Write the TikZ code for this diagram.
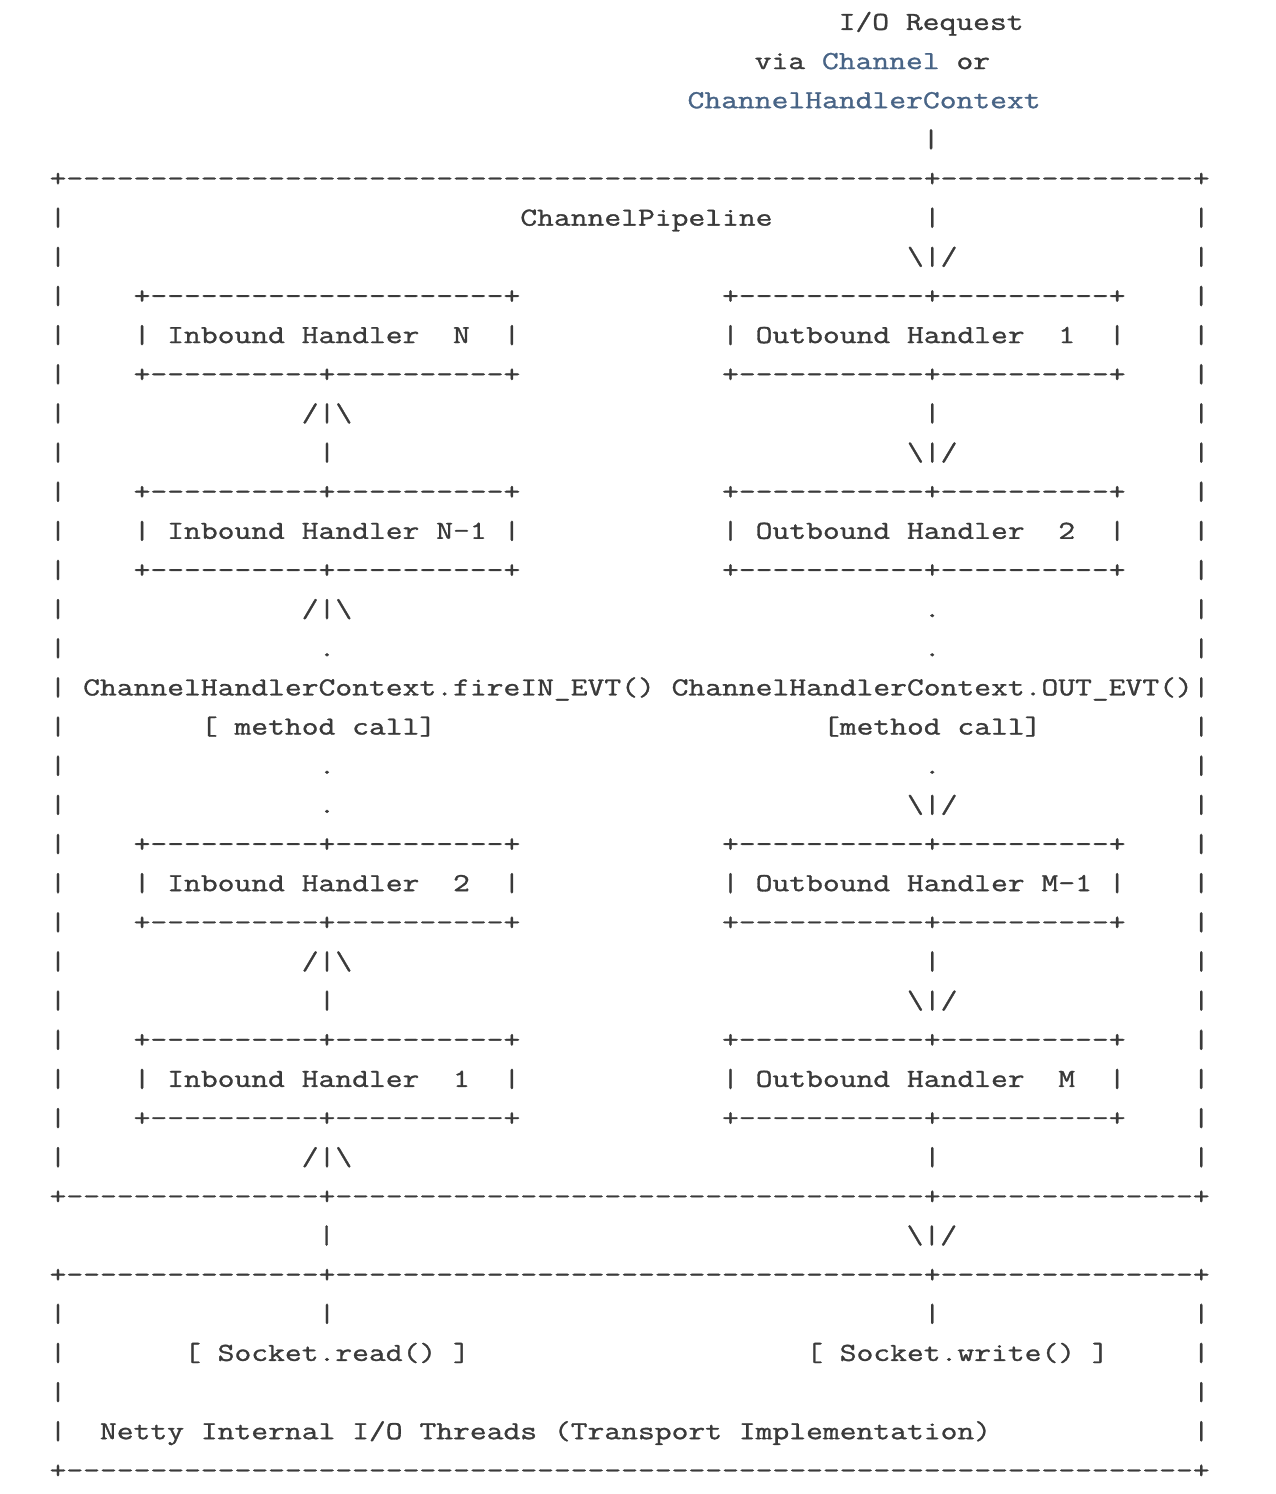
\documentclass[tikz,border=0pt]{standalone}
\usepackage{tikz}
\definecolor{DocText}{RGB}{58,58,58}
\definecolor{LinkBlue}{RGB}{72,100,134}
\font\asciifont="[lmmono12-regular]:extend=1.2557;embolden=1.2" at 13pt
\newcommand\gap[1]{\hskip#1\fontcharwd\font`x\relax}
\newcommand\dashes[1]{\foreach\i in {1,...,#1}{-\kern0pt}}
\newcommand\inarrow{/|\textbackslash}
\newcommand\outarrow{\textbackslash|/}
\newcommand\handlerrule{|\gap4+\dashes{10}+\dashes{10}+\gap{12}+\dashes{11}+\dashes{10}+\gap4|}
\tikzset{
  ascii/.style={anchor=base west, inner sep=0pt, outer sep=0pt, text=DocText,
    font=\asciifont\frenchspacing}
}
\begin{document}
\begin{tikzpicture}[x=8.395pt, y=-19.575pt]
    \useasboundingbox (-2.954,0.236) rectangle (73.04,38.40);
    \node[ascii] (r1) at (47,1) {I/O Request};
    \node[ascii] (r2) at (42,2) {via \textcolor{LinkBlue}{Channel} or};
    \node[ascii] (r3) at (38,3) {\textcolor{LinkBlue}{ChannelHandlerContext}};
    \node[ascii] (r4) at (52,4) {|};
    \node[ascii] (r5) at (0,5) {+\dashes{51}+\dashes{15}+};
    \node[ascii] (r6) at (0,6) {|\gap{27}ChannelPipeline\gap{9}|\gap{15}|};
    \node[ascii] (r7) at (0,7) {|\gap{50}\outarrow\gap{14}|};
    \node[ascii] (r8) at (0,8) {|\gap4+\dashes{21}+\gap{12}+\dashes{11}+\dashes{10}+\gap4|};
    \node[ascii] (r9) at (0,9) {|\gap4| Inbound Handler\gap{2}N\gap{2}|\gap{12}| Outbound Handler\gap{2}1\gap{2}|\gap4|};
    \node[ascii] (r10) at (0,10) {\handlerrule};
    \node[ascii] (r11) at (0,11) {|\gap{14}\inarrow\gap{34}|\gap{15}|};
    \node[ascii] (r12) at (0,12) {|\gap{15}|\gap{34}\outarrow\gap{14}|};
    \node[ascii] (r13) at (0,13) {\handlerrule};
    \node[ascii] (r14) at (0,14) {|\gap4| Inbound Handler N-1 |\gap{12}| Outbound Handler\gap{2}2\gap{2}|\gap4|};
    \node[ascii] (r15) at (0,15) {\handlerrule};
    \node[ascii] (r16) at (0,16) {|\gap{14}\inarrow\gap{34}.\gap{15}|};
    \node[ascii] (r17) at (0,17) {|\gap{15}.\gap{35}.\gap{15}|};
    \node[ascii] (r18) at (0,18) {| ChannelHandlerContext.fireIN\_EVT() ChannelHandlerContext.OUT\_EVT()|};
    \node[ascii] (r19) at (0,19) {|\gap{8}[ method call]\gap{23}[method call]\gap{9}|};
    \node[ascii] (r20) at (0,20) {|\gap{15}.\gap{35}.\gap{15}|};
    \node[ascii] (r21) at (0,21) {|\gap{15}.\gap{34}\outarrow\gap{14}|};
    \node[ascii] (r22) at (0,22) {\handlerrule};
    \node[ascii] (r23) at (0,23) {|\gap4| Inbound Handler\gap{2}2\gap{2}|\gap{12}| Outbound Handler M-1 |\gap4|};
    \node[ascii] (r24) at (0,24) {\handlerrule};
    \node[ascii] (r25) at (0,25) {|\gap{14}\inarrow\gap{34}|\gap{15}|};
    \node[ascii] (r26) at (0,26) {|\gap{15}|\gap{34}\outarrow\gap{14}|};
    \node[ascii] (r27) at (0,27) {\handlerrule};
    \node[ascii] (r28) at (0,28) {|\gap4| Inbound Handler\gap{2}1\gap{2}|\gap{12}| Outbound Handler\gap{2}M\gap{2}|\gap4|};
    \node[ascii] (r29) at (0,29) {\handlerrule};
    \node[ascii] (r30) at (0,30) {|\gap{14}\inarrow\gap{34}|\gap{15}|};
    \node[ascii] (r31) at (0,31) {+\dashes{15}+\dashes{35}+\dashes{15}+};
    \node[ascii] (r32) at (16,32) {|\gap{34}\outarrow};
    \node[ascii] (r33) at (0,33) {+\dashes{15}+\dashes{35}+\dashes{15}+};
    \node[ascii] (r34) at (0,34) {|\gap{15}|\gap{35}|\gap{15}|};
    \node[ascii] (r35) at (0,35) {|\gap{7}[ Socket.read() ]\gap{20}[ Socket.write() ]\gap{5}|};
    \node[ascii] (r36) at (0,36) {|\gap{67}|};
    \node[ascii] (r37) at (0,37) {|\gap{2}Netty Internal I/O Threads (Transport Implementation)\gap{12}|};
    \node[ascii] (r38) at (0,38) {+\dashes{67}+};
  \end{tikzpicture}
\end{document}
